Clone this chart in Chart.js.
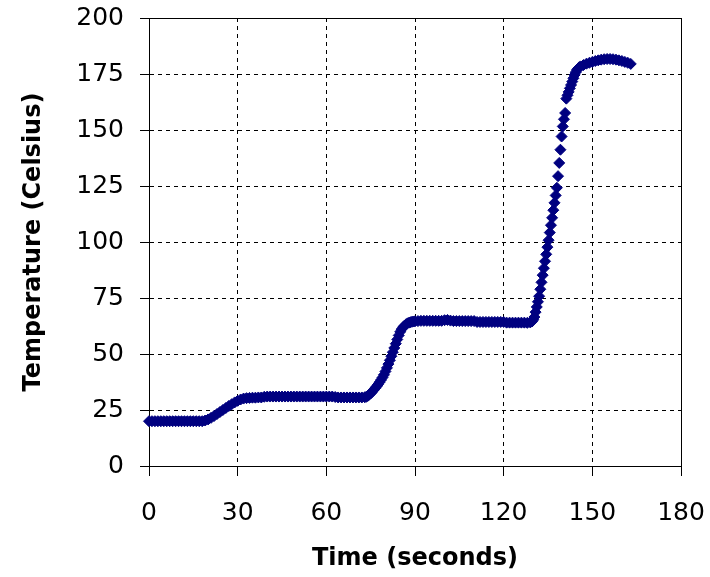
<!DOCTYPE html>
<html>
<head>
<meta charset="utf-8">
<script src="https://cdn.jsdelivr.net/npm/chart.js@4.4.1/dist/chart.umd.min.js"></script>
<style>
  html, body { margin: 0; padding: 0; background: #fff; }
  canvas { display: block; }
</style>
</head>
<body>
<canvas id="chart" width="710" height="577"></canvas>
<script>
// ── DATA ──────────────────────────────────
const timeSec = [
  0, 1, 2, 3, 4, 5, 6, 7, 8, 9, 10, 11, 12, 13, 14, 15, 16, 17, 18, 19,
  20, 21, 22, 23, 24, 25, 26, 27, 28, 29, 30, 31, 32, 33, 34, 35, 36, 37, 38, 39,
  40, 41, 42, 43, 44, 45, 46, 47, 48, 49, 50, 51, 52, 53, 54, 55, 56, 57, 58, 59,
  60, 61, 62, 63, 64, 65, 66, 67, 68, 69, 70, 71, 72,
  73, 73.5, 74, 74.5, 75, 75.5, 76, 76.5, 77, 77.5, 78, 78.5, 79, 79.5, 80, 80.5, 81, 81.5,
  82, 82.5, 83, 83.5, 84, 84.5, 85, 85.5, 86, 86.5, 87, 87.5, 88, 88.5, 89, 89.5, 90,
  91, 92, 93, 94, 95, 96, 97, 98, 99, 100, 101, 102, 103, 104, 105, 106, 107, 108, 109, 110,
  111, 112, 113, 114, 115, 116, 117, 118, 119, 120, 121, 122, 123, 124, 125, 126, 127, 128, 129,
  129.6, 130.0, 130.4, 130.8, 131.2, 131.6, 132.0, 132.4, 132.8, 133.2, 133.6, 134.0, 134.4, 134.8,
  135.2, 135.6, 136.0, 136.4, 136.8, 137.2, 137.6, 138.0, 138.4, 138.8, 139.2, 139.6, 140.0, 140.4,
  140.8, 141.2, 141.6, 142.0, 142.4, 142.8, 143.2, 143.6, 144.0, 144.4, 144.8, 145.2, 145.6, 146.0,
  147, 148, 149, 150, 151, 152, 153, 154, 155, 156, 157, 158, 159, 160, 161, 162, 163
];

const tempC = [
  20, 20, 20, 20, 20, 20, 20, 20, 20, 20, 20, 20, 20, 20, 20, 20, 20, 20, 20, 20.3,
  20.8, 21.5, 22.3, 23.2, 24.1, 25.0, 25.9, 26.8, 27.6, 28.4, 29.1, 29.7, 30.1, 30.3, 30.4, 30.5, 30.5, 30.6, 30.6, 30.9,
  31, 31, 31, 31, 31, 31, 31, 31, 31, 31, 31, 31, 31, 31, 31, 31, 31, 31, 31, 31,
  31, 31, 31, 30.8, 30.6, 30.6, 30.6, 30.6, 30.6, 30.6, 30.6, 30.6, 30.6,
  30.7, 30.9, 31.3, 31.8, 32.4, 33.1, 33.9, 34.7, 35.5, 36.4, 37.4, 38.4, 39.5, 40.7, 42.2, 43.8, 45.5, 47.2,
  49.0, 50.8, 52.7, 54.6, 56.5, 58.3, 59.9, 61.1, 62.0, 62.7, 63.3, 63.7, 64.0, 64.2, 64.4, 64.5, 64.6,
  64.7, 64.8, 64.8, 64.8, 64.8, 64.8, 64.8, 64.8, 64.8, 65.1, 65.2, 64.9, 64.7, 64.7, 64.7, 64.7, 64.7, 64.7, 64.7, 64.7,
  64.3, 64.3, 64.3, 64.3, 64.3, 64.3, 64.3, 64.3, 64.3, 64.3, 64.0, 64.0, 64.0, 64.0, 64.0, 64.0, 64.0, 63.9, 64.1,
  64.5, 65.3, 66.5, 68.7, 71.0, 73.3, 75.8, 78.9, 82.0, 85.2, 88.3, 91.4, 94.5, 97.7,
  100.8, 104.2, 107.5, 110.8, 114.2, 117.5, 120.8, 124.2, 129.4, 135.3, 141.2, 147.1, 151.6, 154.8,
  157.6, 164.0, 165.5, 167.0, 168.6, 170.1, 171.6, 173.1, 174.6, 175.8, 176.8, 177.5, 178.0, 178.4,
  179.0, 179.6, 180.0, 180.4, 180.8, 181.1, 181.4, 181.6, 181.7, 181.7, 181.6, 181.4, 181.1, 180.8, 180.4, 180.0, 179.5
];

const xTicks = [0, 30, 60, 90, 120, 150, 180];
const yTicks = [0, 25, 50, 75, 100, 125, 150, 175, 200];

const xTitle = 'Time (seconds)';
const yTitle = 'Temperature (Celsius)';

// ── CHART ─────────────────────────────────
const points = timeSec.map((t, i) => ({ x: t, y: tempC[i] }));

const tickFont  = { family: 'DejaVu Sans', size: 25 };
const titleFont = { family: 'DejaVu Sans', size: 24, weight: 'bold' };

// fixed box sizes so the plot area lands where the original has it
function fitX(s) {
  s.height = 107;
  s.paddingLeft = 0; s.paddingRight = 0;
}
function fitY(s) {
  s.width = 130;
  s.paddingTop = 0; s.paddingBottom = 0;
}

new Chart(document.getElementById('chart'), {
  type: 'scatter',
  data: {
    datasets: [{
      data: points,
      pointStyle: 'rectRot',
      pointRadius: 5.5,
      borderWidth: 1,
      backgroundColor: '#000080',
      borderColor: '#000080',
      clip: false
    }]
  },
  options: {
    responsive: false,
    animation: false,
    devicePixelRatio: 1,
    layout: { padding: { left: 19, top: 18, right: 29, bottom: 4 } },
    plugins: { legend: { display: false }, tooltip: { enabled: false } },
    scales: {
      x: {
        type: 'linear',
        min: 0, max: 180,
        afterBuildTicks: s => { s.ticks = xTicks.map(v => ({ value: v })); },
        afterFit: fitX,
        ticks: { color: '#000', font: tickFont, padding: 22, maxRotation: 0 },
        grid: {
          color: '#000', lineWidth: 1, tickLength: 10, tickBorderDash: []
        },
        border: {
          color: '#000', width: 1,
          dash: ctx => (ctx.tick && ctx.tick.value === 180) ? [] : [4, 4]
        },
        title: { display: true, text: xTitle, color: '#000', font: titleFont, padding: 0 }
      },
      y: {
        type: 'linear',
        min: 0, max: 200,
        afterBuildTicks: s => { s.ticks = yTicks.map(v => ({ value: v })); },
        afterFit: fitY,
        ticks: { color: '#000', font: tickFont, padding: 16 },
        grid: {
          color: '#000', lineWidth: 1, tickLength: 9, tickBorderDash: []
        },
        border: {
          color: '#000', width: 1,
          dash: ctx => (ctx.tick && ctx.tick.value === 200) ? [] : [4, 4]
        },
        title: { display: true, text: yTitle, color: '#000', font: titleFont, padding: 0 }
      }
    }
  }
});
</script>
</body>
</html>
